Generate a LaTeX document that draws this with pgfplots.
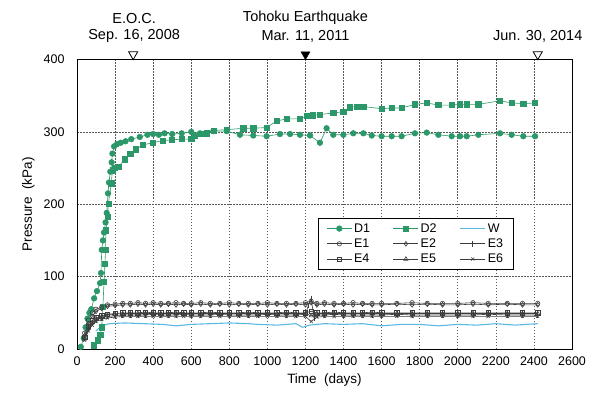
\documentclass[border=0pt]{standalone}
\usepackage{pgfplots}
\pgfplotsset{compat=1.18}
\usepackage{fontspec}
\setmainfont{Liberation Sans}
\definecolor{dgreen}{RGB}{44,152,105}
\definecolor{wblue}{RGB}{90,185,225}
\definecolor{eline}{RGB}{60,60,60}
\begin{document}
\begin{tikzpicture}
\begin{axis}[
 scale only axis, width=495pt, height=289.5pt,
 xmin=0,xmax=2600,ymin=0,ymax=400,
 xtick={0,200,...,2600}, ytick={0,100,...,400},
 grid=major,
 major grid style={dash pattern=on 1.5pt off 1.5pt, color=gray!70!black, line width=0.6pt},
 major tick length=0,
 axis line style={line width=0.9pt},
 /pgf/number format/assume math mode=true,
 /pgf/number format/1000 sep={},
 tick label style={font=\fontsize{12.5}{14}\selectfont},
 yticklabel style={xshift=-9pt},
 xticklabel style={yshift=-4pt},
 xlabel={Time\ \ (days)}, ylabel={Pressure\ \ (kPa)},
 label style={font=\fontsize{13.5}{15}\selectfont},
 xlabel style={yshift=-1pt},
 ylabel style={yshift=2pt},
 clip=false,
 legend columns=3,
 legend cell align=left,
 legend image code/.code={\draw[mark repeat=2,mark phase=2] plot coordinates {(0pt,0pt)(12.5pt,0pt)(25pt,0pt)};},
 legend style={at={(0.487,0.4525)}, anchor=north west,
   font=\fontsize{12.5}{14}\selectfont, draw=black, line width=0.9pt,
   /tikz/every even column/.append style={column sep=21pt},
   inner xsep=8pt, inner ysep=3pt, row sep=1pt},
]
% D1
\addplot[dgreen, line width=0.6pt, mark=*, mark size=2.8pt, mark options={fill=dgreen, draw=dgreen}] coordinates {
(20,3)(35,15)(45,30)(55,42)(65,50)(75,55)(90,70)(105,80)(121,91)(126,105)(130,137)(136,150)(142,161)(150,175)(156,188)(163,215)(168,230)(175,245)(182,258)(186,270)(195,280)(210,283)(230,285)(255,287)(285,290)(330,293)(370,296)(400,297)(430,296)(460,298)(500,297)(550,298)(600,300)(646,298)(716,301)(786,301)(856,296)(926,295)(996,294)(1066,297)(1119,297)(1171,296)(1224,295)(1276,285)(1311,305)(1346,296)(1399,296)(1451,298)(1504,298)(1548,295)(1600,294)(1653,294)(1705,294)(1775,298)(1837,299)(1898,296)(1968,294)(2012,294)(2047,294)(2108,296)(2222,298)(2283,296)(2344,294)(2406,294)};
\addlegendentry{D1}
% D2
\addplot[dgreen, line width=0.6pt, mark=square*, mark size=2.6pt, mark options={fill=dgreen, draw=dgreen}] coordinates {
(90,5)(110,12)(122,20)(130,30)(136,58)(142,93)(147,118)(150,137)(152,164)(160,183)(165,201)(180,229)(186,247)(200,250)(220,252)(250,262)(280,270)(310,276)(345,282)(400,285)(450,288)(500,289)(550,290)(600,290)(620,295)(650,297)(680,298)(720,302)(786,303)(874,305)(926,305)(996,306)(1049,315)(1101,318)(1171,318)(1206,322)(1240,323)(1276,324)(1346,326)(1399,328)(1434,334)(1470,335)(1504,335)(1600,332)(1653,333)(1705,333)(1775,338)(1837,340)(1898,337)(1968,337)(2012,338)(2047,338)(2108,338)(2222,343)(2283,340)(2344,339)(2406,340)};
\addlegendentry{D2}
% W
\addplot[wblue, line width=1.1pt] coordinates {
(100,25)(130,32)(170,35)(250,36)(350,35)(450,34)(520,32)(600,34)(700,35)(800,36)(900,35)(950,34)(1050,33)(1150,35)(1185,30)(1220,33)(1300,35)(1400,34)(1500,35)(1600,32)(1700,34)(1800,34)(1900,32)(2000,34)(2100,33)(2200,35)(2300,33)(2420,35)};
\addlegendentry{W}
% E1
\addplot[eline, line width=0.6pt, mark=o, mark size=2.2pt, mark options={fill=white, draw=eline}] coordinates {
(40,22)(60,40)(80,50)(100,55)(130,58)(160,61)(200,62)(240,63)(280,63)(320,64)(360,63)(400,64)(440,63)(480,63)(520,64)(560,63)(600,63)(650,64)(700,63)(750,63)(800,64)(850,63)(900,63)(950,63)(1000,64)(1050,63)(1100,63)(1150,63)(1200,64)(1230,66)(1260,63)(1300,64)(1350,63)(1400,63)(1450,64)(1500,63)(1550,63)(1600,63)(1680,63)(1760,64)(1840,63)(1920,63)(2000,63)(2080,64)(2160,63)(2260,63)(2340,63)(2420,63)};
\addlegendentry{E1}
% E2
\addplot[eline, line width=0.6pt, mark=diamond, mark size=2.4pt, mark options={fill=white, draw=eline}] coordinates {
(40,18)(60,35)(80,45)(100,52)(130,56)(160,59)(200,60)(240,61)(280,61)(320,62)(360,61)(400,62)(440,61)(480,62)(520,61)(560,62)(600,61)(650,62)(700,61)(750,62)(800,61)(850,62)(900,61)(950,62)(1000,61)(1050,62)(1100,61)(1150,62)(1200,61)(1230,64)(1260,61)(1300,62)(1350,61)(1400,62)(1450,61)(1500,62)(1550,61)(1600,61)(1680,62)(1760,61)(1840,62)(1920,61)(2000,61)(2080,62)(2160,61)(2260,62)(2340,61)(2420,61)};
\addlegendentry{E2}
% E3
\addplot[eline, line width=0.6pt, mark=|, mark size=2.8pt, mark options={draw=eline}] coordinates {
(40,15)(60,28)(80,36)(100,40)(130,43)(160,45)(200,46)(240,47)(280,47)(320,47)(360,47)(400,48)(440,47)(480,47)(520,47)(560,48)(600,47)(650,47)(700,47)(750,48)(800,47)(850,47)(900,47)(950,47)(1000,48)(1050,47)(1100,47)(1150,47)(1200,48)(1215,60)(1230,70)(1245,42)(1260,47)(1300,47)(1350,48)(1400,47)(1450,47)(1500,47)(1550,47)(1600,47)(1680,48)(1760,47)(1840,47)(1920,47)(2000,47)(2080,47)(2160,48)(2260,47)(2340,47)(2420,47)};
\addlegendentry{E3}
% E4
\addplot[eline, line width=0.6pt, mark=square, mark size=2.2pt, mark options={fill=white, draw=eline}] coordinates {
(40,16)(60,31)(80,39)(100,43)(130,46)(160,48)(200,49)(240,50)(280,50)(320,50)(360,51)(400,50)(440,50)(480,50)(520,51)(560,50)(600,50)(650,50)(700,51)(750,50)(800,50)(850,50)(900,51)(950,50)(1000,50)(1050,50)(1100,51)(1150,50)(1200,50)(1230,52)(1260,50)(1300,50)(1350,51)(1400,50)(1450,50)(1500,50)(1550,51)(1600,50)(1680,50)(1760,50)(1840,50)(1920,50)(2000,50)(2080,50)(2160,50)(2260,50)(2340,50)(2420,50)};
\addlegendentry{E4}
% E5
\addplot[eline, line width=0.6pt, mark=triangle, mark size=2.4pt, mark options={fill=white, draw=eline}] coordinates {
(40,14)(60,29)(80,37)(100,42)(130,45)(160,47)(200,48)(240,49)(280,49)(320,49)(360,49)(400,49)(440,49)(480,49)(520,49)(560,49)(600,49)(650,49)(700,49)(750,49)(800,49)(850,49)(900,49)(950,49)(1000,49)(1050,49)(1100,49)(1150,49)(1200,49)(1230,46)(1260,49)(1300,49)(1350,49)(1400,49)(1450,49)(1500,49)(1550,49)(1600,49)(1680,49)(1760,49)(1840,49)(1920,49)(2000,49)(2080,49)(2160,49)(2260,49)(2340,49)(2420,49)};
\addlegendentry{E5}
% E6
\addplot[eline, line width=0.6pt, mark=x, mark size=2.2pt, mark options={draw=eline}] coordinates {
(40,12)(60,25)(80,33)(100,38)(130,41)(160,43)(200,44)(240,45)(280,45)(320,45)(360,45)(400,45)(440,45)(480,45)(520,45)(560,45)(600,45)(650,45)(700,45)(750,45)(800,45)(850,45)(900,45)(950,45)(1000,45)(1050,45)(1100,45)(1150,45)(1200,45)(1230,38)(1260,44)(1300,45)(1350,45)(1400,45)(1450,45)(1500,45)(1550,45)(1600,45)(1680,45)(1760,45)(1840,45)(1920,45)(2000,45)(2080,45)(2160,45)(2260,45)(2340,45)(2420,45)};
\addlegendentry{E6}
% event markers
\addplot[forget plot, only marks, mark=triangle, mark size=5.2pt, mark options={rotate=180, draw=black, fill=white, line width=0.8pt}] coordinates {(295,407)(2420,407)};
\addplot[forget plot, only marks, mark=triangle*, mark size=5.2pt, mark options={rotate=180, draw=black, fill=black}] coordinates {(1200,407)};
\node[font=\fontsize{14.5}{16}\selectfont] at (axis cs:300,457) {E.O.C.};
\node[font=\fontsize{14.5}{16}\selectfont] at (axis cs:300,432) {Sep. 16, 2008};
\node[font=\fontsize{14.5}{16}\selectfont] at (axis cs:1200,457) {Tohoku Earthquake};
\node[font=\fontsize{14.5}{16}\selectfont] at (axis cs:1200,432) {Mar. 11, 2011};
\node[font=\fontsize{14.5}{16}\selectfont] at (axis cs:2420,432) {Jun. 30, 2014};
\end{axis}
\pgfresetboundingbox
\path[use as bounding box] ([shift={(-77pt,-50pt)}]current axis.south west) rectangle ([shift={(29pt,59.5pt)}]current axis.north east);
\end{tikzpicture}
\end{document}
